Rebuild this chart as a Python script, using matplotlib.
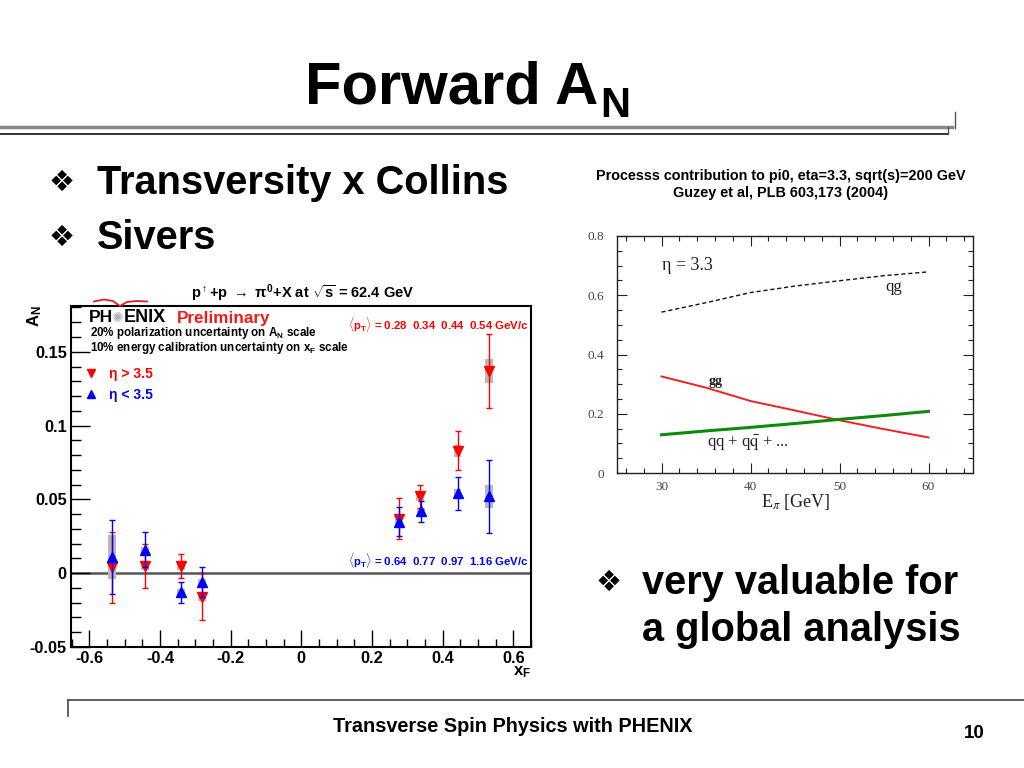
import matplotlib
matplotlib.use('Agg')
import matplotlib.pyplot as plt
from matplotlib.lines import Line2D
from matplotlib.ticker import MultipleLocator, FixedLocator, FuncFormatter

# ---------------- data: left chart (PHENIX A_N vs x_F) ----------------
xf_red = [-0.535, -0.443, -0.340, -0.281, 0.276, 0.336, 0.442, 0.532]
an_red = [0.004, 0.005, 0.005, -0.016, 0.037, 0.052, 0.083, 0.137]
err_red = [0.024, 0.015, 0.008, 0.016, 0.014, 0.008, 0.013, 0.025]
sys_red = [0.003, 0.003, 0.003, 0.003, 0.003, 0.003, 0.004, 0.008]

xf_blue = [-0.535, -0.443, -0.340, -0.281, 0.276, 0.338, 0.442, 0.532]
an_blue = [0.011, 0.016, -0.013, -0.006, 0.035, 0.042, 0.054, 0.052]
err_blue = [0.025, 0.012, 0.007, 0.010, 0.010, 0.007, 0.011, 0.025]
sys_blue = [0.015, 0.002, 0.002, 0.002, 0.002, 0.002, 0.003, 0.008]

pt_red_labels = ["0.28", "0.34", "0.44", "0.54"]
pt_blue_labels = ["0.64", "0.77", "0.97", "1.16"]

# ---------------- data: right chart (process contributions) ----------------
energy = [30, 35, 40, 45, 50, 55, 60]
frac_qg = [0.543, 0.575, 0.609, 0.631, 0.649, 0.666, 0.679]
frac_gg = [0.326, 0.288, 0.243, 0.211, 0.178, 0.148, 0.120]
frac_qq = [0.129, 0.142, 0.154, 0.167, 0.181, 0.194, 0.208]

W, H = 1024, 768
SANS = ['Liberation Sans', 'DejaVu Sans']
NARROW = ['Liberation Sans Narrow', 'Liberation Sans', 'DejaVu Sans']
SERIF = ['Liberation Serif', 'DejaVu Serif']

plt.rcParams['mathtext.fontset'] = 'custom'
plt.rcParams['mathtext.rm'] = 'Liberation Sans:bold'
plt.rcParams['mathtext.it'] = 'Liberation Sans:bold'
plt.rcParams['mathtext.bf'] = 'Liberation Sans:bold'
plt.rcParams['mathtext.sf'] = 'Liberation Sans:bold'

fig = plt.figure(figsize=(W / 100, H / 100), dpi=100)
fig.patch.set_facecolor('white')


def fx(px):
    return px / W


def fy(py):
    return 1 - py / H


def ftext(px, py, s, **kw):
    return fig.text(fx(px), fy(py), s, **kw)


# ---------------- slide decorations ----------------
fig.add_artist(Line2D([0, fx(952)], [fy(127), fy(127)], color='#888888', lw=2.5))
fig.add_artist(Line2D([0, fx(948)], [fy(134), fy(134)], color='#111111', lw=1.2))
fig.add_artist(Line2D([fx(955), fx(955)], [fy(112), fy(128)], color='#555555', lw=1))
fig.add_artist(Line2D([fx(948), fx(948)], [fy(127), fy(134)], color='#555555', lw=1))
fig.add_artist(Line2D([fx(68), 1], [fy(700), fy(700)], color='#444444', lw=1.2))
fig.add_artist(Line2D([fx(68), fx(68)], [fy(700), fy(716)], color='#444444', lw=1.2))

t1 = ftext(305, 103, "Forward A", family=NARROW, weight='bold', fontsize=43,
           ha='left', va='baseline')
fig.canvas.draw()
r = fig.canvas.get_renderer()
bb = t1.get_window_extent(r)
ftext(bb.x1 + 2, 117, "N", family=NARROW, weight='bold', fontsize=30,
      ha='left', va='baseline')

ftext(513, 727, "Transverse Spin Physics with PHENIX", family=NARROW,
      weight='bold', fontsize=14.3, ha='center', va='center')
ftext(974, 733, "10", family=NARROW, weight='bold', fontsize=13.5,
      ha='center', va='center')

bul_kw = dict(family=SANS, weight='bold', fontsize=28.6, ha='left', va='center')
dia_kw = dict(family=['DejaVu Sans'], fontsize=21, ha='center', va='center')
ftext(62, 183, "\u2756", **dia_kw)
ftext(97, 183, "Transversity x Collins", **bul_kw)
ftext(62, 238, "\u2756", **dia_kw)
ftext(97, 238, "Sivers", **bul_kw)
ftext(609, 583, "\u2756", **dia_kw)
ftext(642, 583, "very valuable for", **bul_kw)
ftext(642, 630, "a global analysis", **bul_kw)

# ---------------- left chart ----------------
L_LEFT, L_RIGHT, L_TOP, L_BOT = 71, 531, 306, 647
axL = fig.add_axes([fx(L_LEFT), fy(L_BOT), (L_RIGHT - L_LEFT) / W, (L_BOT - L_TOP) / H])
axL.set_xlim(-0.652, 0.65)
axL.set_ylim(-0.05, 0.181)

axL.axhline(0, color='#555555', lw=1.8, zorder=1)
bw = 0.022
axL.bar(xf_red, [2 * s for s in sys_red], bottom=[a - s for a, s in zip(an_red, sys_red)],
        width=bw, color='#b8b8b8', zorder=2, linewidth=0)
axL.bar(xf_blue, [2 * s for s in sys_blue], bottom=[a - s for a, s in zip(an_blue, sys_blue)],
        width=bw, color='#b8b8b8', zorder=2, linewidth=0)
axL.errorbar(xf_red, an_red, yerr=err_red, fmt='v', color='#ff0000', ms=7,
             capsize=2.5, elinewidth=1, capthick=1, zorder=3)
axL.errorbar(xf_blue, an_blue, yerr=err_blue, fmt='^', color='#0000ff', ms=7,
             capsize=2.5, elinewidth=1, capthick=1, zorder=4)

axL.xaxis.set_major_locator(MultipleLocator(0.2))
axL.xaxis.set_minor_locator(MultipleLocator(0.05))
axL.yaxis.set_major_locator(MultipleLocator(0.05))
axL.yaxis.set_minor_locator(MultipleLocator(0.01))
axL.xaxis.set_major_formatter(FuncFormatter(lambda v, p: '0' if abs(v) < 1e-9 else f'{v:.1f}'))
axL.yaxis.set_major_formatter(FuncFormatter(lambda v, p: '0' if abs(v) < 1e-9 else f'{v:g}'))
axL.tick_params(which='both', direction='in', top=False, right=False, width=1, colors='black')
axL.tick_params(axis='y', which='major', length=14, pad=3)
axL.tick_params(axis='y', which='minor', length=7)
axL.tick_params(axis='x', which='major', length=12, pad=3)
axL.tick_params(axis='x', which='minor', length=6)
for lab in axL.get_xticklabels() + axL.get_yticklabels():
    lab.set_family(SANS)
    lab.set_weight('bold')
    lab.set_fontsize(11.8)
for s in axL.spines.values():
    s.set_linewidth(1.5)

ftext(303, 293, r"p$^{\uparrow}$+p $\rightarrow$ $\pi^{0}$+X at $\sqrt{s}$ = 62.4 GeV",
      family=SANS, weight='bold', fontsize=10.5, ha='center', va='center')
ftext(35, 316, r"A$_{N}$", family=SANS, weight='bold', fontsize=12, rotation=90,
      ha='center', va='center')
ftext(522, 672, r"x$_{F}$", family=SANS, weight='bold', fontsize=12,
      ha='center', va='center')

# PHENIX Preliminary logo
ftext(89, 318, "PH", family=SANS, weight='bold', fontsize=12.5, ha='left', va='center')
ftext(117.5, 318, "\u273A", family=['DejaVu Sans'], fontsize=10, color='#b0b0b0',
      ha='center', va='center')
ftext(124, 318, "ENIX", family=SANS, weight='bold', fontsize=13, ha='left', va='center')
ftext(177, 318, "Preliminary", family=SANS, weight='bold', fontsize=12.3,
      color='#ee1c1c', ha='left', va='center')
fig.add_artist(Line2D([fx(94), fx(104), fx(113), fx(120), fx(127), fx(137), fx(147)],
                      [fy(301.5), fy(299.5), fy(301), fy(306), fy(302), fy(301), fy(301.5)],
                      color='#dd2020', lw=1.3))

ftext(90, 333, r"20% polarization uncertainty on A$_{N}$ scale", family=SANS,
      weight='bold', fontsize=8.4, ha='left', va='center')
ftext(90, 348, r"10% energy calibration uncertainty on x$_{F}$ scale", family=SANS,
      weight='bold', fontsize=8.4, ha='left', va='center')

handles = [Line2D([], [], marker='v', color='#ff0000', ls='none', ms=6),
           Line2D([], [], marker='^', color='#0000ff', ls='none', ms=6)]
leg = axL.legend(handles, ["\u03b7 > 3.5", "\u03b7 < 3.5"], loc='upper left',
                 bbox_to_anchor=((84 - L_LEFT) / (L_RIGHT - L_LEFT), (L_BOT - 367) / (L_BOT - L_TOP)),
                 frameon=False, handlelength=1.0, handletextpad=0.8, labelspacing=0.5,
                 borderpad=0, borderaxespad=0,
                 prop={'family': SANS, 'weight': 'bold', 'size': 10})
for txt, c in zip(leg.get_texts(), ['#ff0000', '#0000ff']):
    txt.set_color(c)

ftext(529, 324, r"$\langle$p$_{T}$$\rangle$ = " + "  ".join(pt_red_labels) + " GeV/c",
      family=SANS, weight='bold', fontsize=8.2, color='#ff0000', ha='right', va='center')
ftext(529, 561, r"$\langle$p$_{T}$$\rangle$ = " + "  ".join(pt_blue_labels) + " GeV/c",
      family=SANS, weight='bold', fontsize=8.2, color='#0000ff', ha='right', va='center')

# ---------------- right chart ----------------
R_LEFT, R_RIGHT, R_TOP, R_BOT = 617, 973, 236, 473
axR = fig.add_axes([fx(R_LEFT), fy(R_BOT), (R_RIGHT - R_LEFT) / W, (R_BOT - R_TOP) / H])
axR.set_xlim(25, 65)
axR.set_ylim(0, 0.8)
axR.plot(energy, frac_qg, color='#111111', lw=1.0, ls=(0, (3, 2)))
axR.plot(energy, frac_gg, color='#ee2222', lw=1.4)
axR.plot(energy, frac_qq, color='#0c8a0c', lw=2.2)

axR.xaxis.set_major_locator(FixedLocator([30, 40, 50, 60]))
axR.xaxis.set_minor_locator(MultipleLocator(2))
axR.yaxis.set_major_locator(MultipleLocator(0.2))
axR.yaxis.set_minor_locator(MultipleLocator(0.05))
axR.yaxis.set_major_formatter(FuncFormatter(lambda v, p: '0' if abs(v) < 1e-9 else f'{v:.1f}'))
axR.tick_params(which='both', direction='in', top=True, right=True, width=0.8,
                colors='#222222')
axR.tick_params(which='major', length=7)
axR.tick_params(which='minor', length=3.5)
axR.tick_params(axis='y', which='major', pad=9)
axR.tick_params(axis='x', which='major', pad=6)
for lab in axR.get_xticklabels() + axR.get_yticklabels():
    lab.set_family(SERIF)
    lab.set_fontsize(9.5)
    lab.set_color('#444444')
for s in axR.spines.values():
    s.set_linewidth(1.0)
    s.set_color('#222222')

axR.text(30.1, 0.70, "\u03b7 = 3.3", family=SERIF, fontsize=13, ha='left', va='center',
         color='#222222')
axR.text(55.1, 0.629, "qg", family=SERIF, fontsize=12, ha='left', va='center', color='#222222')
axR.text(35.3, 0.309, "gg", family=SERIF, fontsize=10, ha='left', va='center', color='#222222',
         weight='bold')
axR.text(35.1, 0.099, r"qq + q$\bar{\mathrm{q}}$ + ...", family=SERIF, fontsize=12,
         ha='left', va='center', color='#222222', math_fontfamily='stix')
ftext(796, 502, r"E$_{\pi}$ [GeV]", family=SERIF, fontsize=13, ha='center', va='center',
      color='#222222', math_fontfamily='stix')

ftext(781, 176, "Processs contribution to pi0, eta=3.3, sqrt(s)=200 GeV", family=SANS,
      weight='bold', fontsize=10.4, ha='center', va='center')
ftext(781, 193, "Guzey et al, PLB 603,173 (2004)", family=SANS,
      weight='bold', fontsize=10.4, ha='center', va='center')

fig.savefig('out.png', dpi=100, facecolor='white')
